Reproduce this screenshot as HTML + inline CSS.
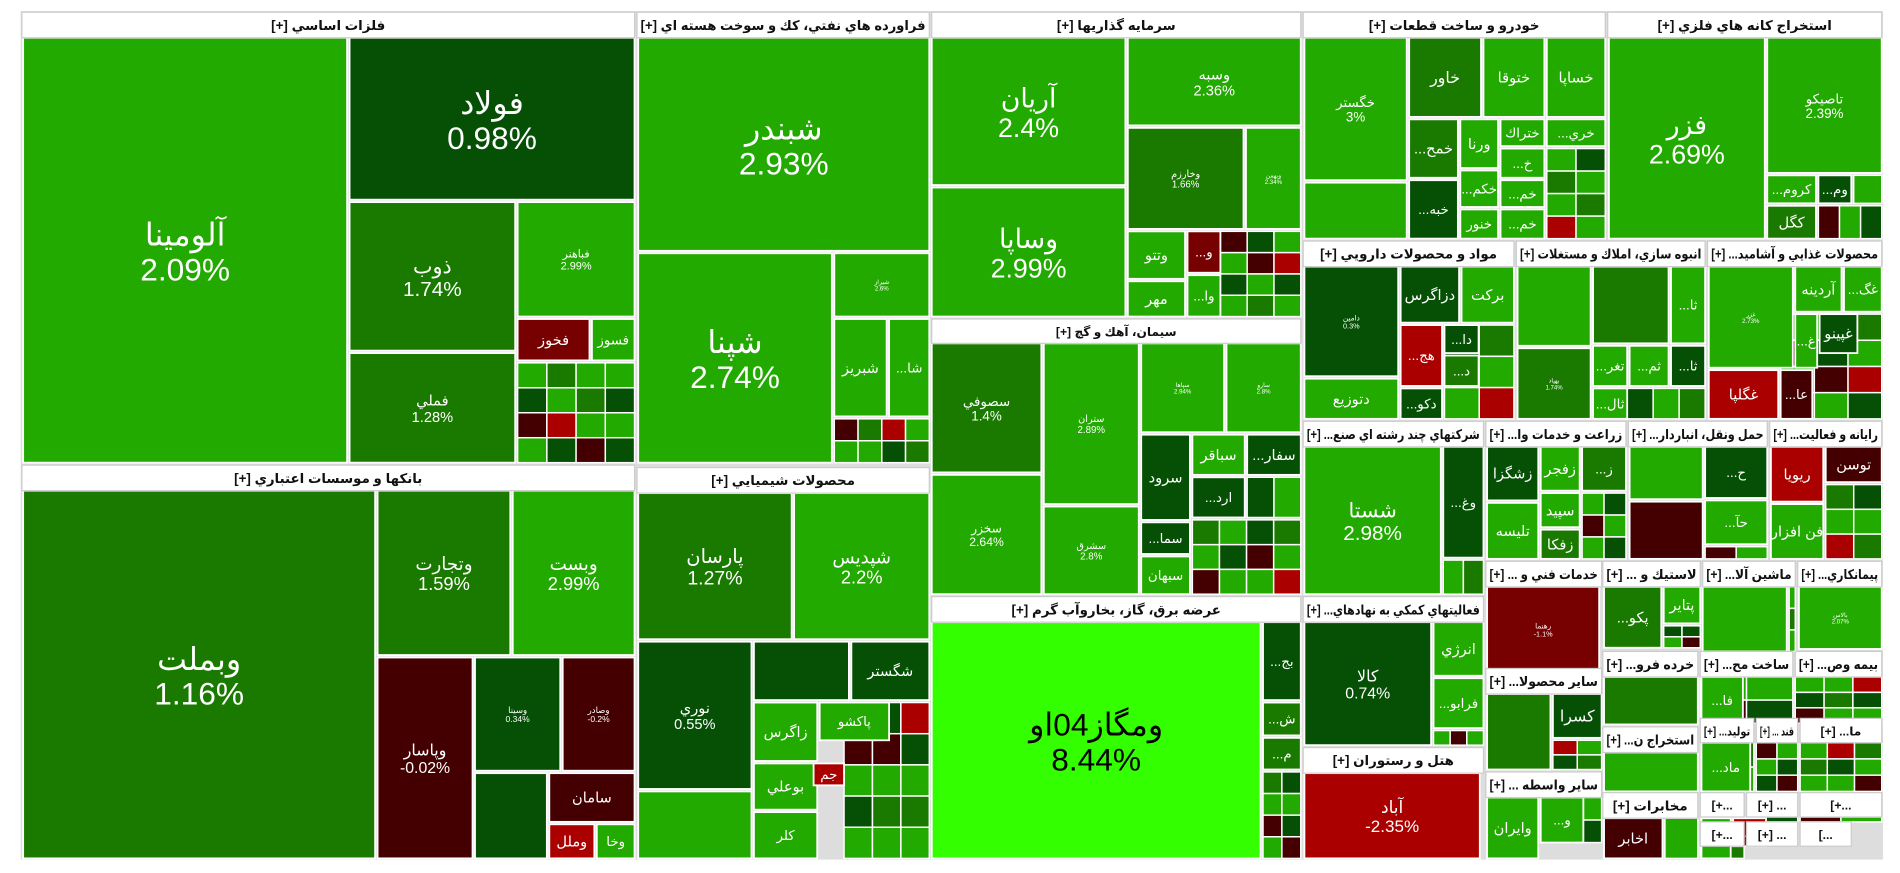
<!DOCTYPE html>
<html><head><meta charset="utf-8">
<style>
html,body{margin:0;padding:0;background:#fff;width:1900px;height:873px;overflow:hidden}
svg{display:block}
text{font-family:"Liberation Sans","DejaVu Sans",sans-serif}
</style></head>
<body>
<svg id="tm" width="1900" height="873" viewBox="0 0 1560 717" preserveAspectRatio="none" xmlns="http://www.w3.org/2000/svg">
<rect x="17" y="9" width="1529" height="697" fill="#ddd"/>
<g id="cells"></g><g id="heads"></g>
</svg>
<script>
// sector headers
const headerBoxes = [
[18,10,521,31,'فلزات اساسي [+]'],
[523,10,763,31,'فراورده هاي نفتي، كك و سوخت هسته اي [+]'],
[765,10,1068,31,'سرمايه گذاريها [+]'],
[1070,10,1318,31,'خودرو و ساخت قطعات [+]'],
[1320,10,1545,31,'استخراج كانه هاي فلزي [+]'],
[18,382,521,403,'بانكها و موسسات اعتباري [+]'],
[523,384,763,405,'محصولات شيميايي [+]'],
[765,262,1068,282,'سيمان، آهك و گچ [+]'],
[765,490,1068,511,'عرضه برق، گاز، بخاروآب گرم [+]'],
[1070,198,1243,219,'مواد و محصولات دارويي [+]'],
[1245,198,1400,219,'انبوه سازي، املاك و مستغلات [+]'],
[1402,198,1545,219,'محصولات غذايي و آشاميد... [+]'],
[1070,346,1218,367,'شركتهاي چند رشته اي صنع... [+]'],
[1220,346,1335,367,'زراعت و خدمات وا... [+]'],
[1337,346,1451,367,'حمل ونقل، انباردار... [+]'],
[1453,346,1545,367,'رايانه و فعاليت... [+]'],
[1070,490,1218,511,'فعاليتهاي كمكي به نهادهاي... [+]'],
[1070,614,1218,635,'هتل و رستوران [+]'],
[1220,461,1315,482,'خدمات فني و ... [+]'],
[1316,461,1396,482,'لاستيك و ... [+]'],
[1398,461,1474,482,'ماشين آلا... [+]'],
[1476,461,1545,482,'پيمانكاري... [+]'],
[1220,549,1315,570,'ساير محصولا... [+]'],
[1316,535,1394,556,'خرده فرو... [+]'],
[1396,535,1472,556,'ساخت مح... [+]'],
[1474,535,1545,556,'بيمه وص... [+]'],
[1316,597,1394,618,'استخراج ن... [+]'],
[1220,634,1315,655,'ساير واسطه ... [+]'],
[1316,651,1394,672,'مخابرات [+]'],
[1396,590,1440,610,'توليد... [+]'],
[1442,590,1476,610,'قند ... [+]'],
[1478,590,1545,610,'ما... [+]'],
[1396,651,1432,671,'...+]'],
[1434,651,1476,671,'... [+]'],
[1478,651,1545,671,'...+]'],
[1396,675,1432,695,'...+]'],
[1434,675,1476,695,'... [+]'],
[1478,675,1520,695,'...]']
];
// stock names
const names = ['آلومينا','فولاد','ذوب','فباهنر','فملي','فخوز','فسوز',
'وبملت','وتجارت','وبست','وپاسار','وسينا','وصادر','','سامان','وملل','وخا',
'شبندر','شپنا','شيراز','شبريز','شا...',
'پارسان','شپديس','نوري','','شگستر','زاگرس','پاكشو','بوعلي','كلر','جم','',
'آريان','وساپا','وسبه','وخارزم','وبهمن','وتتو','مهر','و...','وا...',
'سصوفي','سخزر','ستران','سشرق','سپاها','سارو','سرود','سباقر','سفار...','ارد...','سما...','سبهان',
'ومگاز04او','بج...','ش...','م...',
'خگستر','','خاور','ختوقا','خساپا','خمح...','خبه...','ورنا','ختراك','خري...','خ...','خكم...','خم...','خنور','خم...',
'فزر','تاصيكو','كروم...','وم...','كگل',
'دامين','دتوزيع','دزاگرس','بركت','هج...','دكو...','دا...','د...',
'','بهپاد','','ثا...','تغر...','ثم...','ثا...','ثال...',
'غزر','غگلپا','آردينه','غگ...','غ...','غپينو','عا...',
'شستا','وغ...',
'زشگزا','زفجر','ز...','تليسه','سپيد','زفكا',
'','ح...','','حآ...',
'ريويا','توسن','فن افزار',
'كالا','انرژي','فرابو...',
'آباد',
'رهنما','پكو...','پتاير','','بالاس',
'','كسرا','','','فا...','ماد...','وايران','و...','اخابر','ا...','ه...'];
// daily change percent for each stock (same order)
const pcts = [2.09,0.98,1.74,2.99,1.28,-0.8,2.4,
1.16,1.59,2.99,-0.02,0.34,-0.2,0.32,-0.1,-2.0,2.2,
2.93,2.74,2.6,2.5,2.3,
1.27,2.2,0.55,0.8,0.6,2.3,2.2,2.4,2.1,-2.0,2.5,
2.4,2.99,2.36,1.66,2.34,2.2,2.3,-0.8,2.1,
1.4,2.64,2.89,2.8,2.94,2.8,0.6,2.3,0.7,0.6,0.5,2.2,
8.44,0.6,1.2,1.3,
3,2.67,1.5,2.4,2.3,1.3,0.5,2.4,2.3,2.2,2.3,2.4,2.3,2.2,2.3,
2.69,2.39,2.2,0.6,1.4,
0.3,2.4,0.6,2.3,-2.0,0.7,0.6,1.2,
2.08,1.74,1.88,2.3,2.2,2.4,0.6,2.2,
2.73,-2.2,2.3,2.2,2.3,0.6,-0.3,
2.98,0.5,
0.6,2.2,1.3,2.4,2.3,1.4,
2.9,0.6,-0.01,2.2,
-2.1,-0.1,2.3,
0.74,2.2,2.3,
-2.35,
-1.1,1.3,2.2,2.2,2.07,
1.27,0.6,1.2,2.99,2.2,2.2,2.2,2.3,-0.1,2.3,-2.1];
// names whose percent label is shown at mid font sizes
const pctShown = ['فملي','خگستر','نوري','كالا','وپاسار','سصوفي','تاصيكو','شستا','آباد','وتجارت','وبست','پارسان','شپديس','وسبه'];
// marks geometry is the fixed treemap layout (screen units)
const boxes = [
[19,31,285,380,26],[287,31,521,164,26],[287,166,423,288,17],[425,166,521,260,9],[287,290,423,380,12],[425,262,484,296,12],[486,262,521,296,11],
[19,403,308,705,26],[310,403,419,538,15],[421,403,521,538,15],[310,540,388,705,13],[390,540,460,633,7],[462,540,521,633,7],[390,635,449,705,5],[451,635,521,675,12],[451,677,488,705,12],[490,677,521,705,11],
[524,31,763,206,26],[524,208,683,380,26],[685,208,763,260,5],[685,262,728,342,12],[730,262,763,342,11],
[524,405,650,525,16],[652,405,763,525,15],[524,527,617,648,12],[619,527,697,575,5],[699,527,763,575,12],[619,577,671,625,12],[673,577,730,608,11],[619,627,671,665,12],[619,667,671,705,11],[668,627,693,645,11],[524,650,617,705,5],
[765,31,924,152,22],[765,154,924,260,22],[926,31,1068,103,12],[926,105,1021,188,8],[1023,105,1068,188,5],[926,190,973,229,12],[926,231,973,260,12],[975,190,1002,224,11],[975,226,1002,260,11],
[765,282,855,388,11],[765,390,855,488,10],[857,282,935,414,8],[857,416,935,488,8],[937,282,1005,355,5],[1007,282,1068,355,5],[937,357,977,427,12],[979,357,1022,390,12],[1024,357,1068,390,12],[979,392,1022,425,11],[937,429,977,455,11],[937,457,977,488,11],
[765,511,1035,705,26],[1037,511,1068,575,11],[1037,577,1068,604,11],[1037,606,1068,632,11],
[1071,31,1155,148,11],[1071,150,1155,196,5],[1157,31,1216,96,13],[1218,31,1268,96,12],[1270,31,1318,96,12],[1157,98,1197,146,12],[1157,148,1197,196,11],[1199,98,1230,138,12],[1232,98,1268,120,11],[1270,98,1318,120,11],[1232,122,1268,146,11],[1199,140,1230,170,11],[1232,148,1268,170,11],[1199,172,1230,196,11],[1232,172,1268,196,11],
[1321,31,1449,196,22],[1451,31,1545,142,11],[1451,144,1491,167,11],[1493,144,1520,167,11],[1451,169,1491,196,12],
[1071,219,1148,309,6],[1071,311,1148,344,12],[1150,219,1198,265,12],[1200,219,1243,265,12],[1150,267,1184,317,11],[1150,319,1184,344,11],[1186,267,1214,290,11],[1186,292,1214,317,11],
[1246,219,1306,284,5],[1246,286,1306,344,5],[1308,219,1370,282,5],[1372,219,1400,282,11],[1308,284,1336,317,11],[1338,284,1370,317,11],[1372,284,1400,317,11],[1308,319,1336,344,11],
[1403,219,1472,302,5],[1403,304,1460,344,12],[1474,219,1512,256,12],[1514,219,1545,256,11],[1474,258,1492,302,11],[1494,258,1525,290,12],[1462,304,1488,344,11],
[1071,367,1183,488,17],[1185,367,1218,458,11],
[1221,367,1263,411,12],[1265,367,1297,403,12],[1299,367,1335,403,11],[1221,413,1263,459,12],[1265,405,1297,433,12],[1265,435,1297,459,12],
[1338,367,1398,410,5],[1400,367,1451,409,11],[1338,412,1398,459,5],[1400,411,1451,447,11],
[1454,367,1497,412,12],[1499,367,1545,396,12],[1454,414,1497,459,12],
[1071,511,1175,612,13],[1177,511,1218,555,12],[1177,557,1218,598,11],
[1071,635,1215,705,14],
[1221,482,1313,552,6],[1317,482,1364,532,12],[1366,482,1396,512,12],[1398,482,1467,535,5],[1477,482,1545,533,5],
[1221,570,1273,632,5],[1275,570,1315,606,13],[1317,556,1394,595,5],[1317,618,1394,650,5],[1397,556,1431,594,11],[1397,610,1437,650,11],[1221,655,1263,705,12],[1265,655,1300,692,11],[1317,672,1365,705,12],[1397,672,1421,705,11],[1423,672,1450,695,11]
];
function colorOf(p){
  if(p>=5) return '#33ff00';
  if(p>=2) return '#22aa00';
  if(p>=1) return '#1a7a00';
  if(p>0) return '#055005';
  if(p>-0.5) return '#440000';
  if(p>-1.5) return '#770000';
  return '#aa0000';
}
const NS='http://www.w3.org/2000/svg';
const cg=document.getElementById('cells');
// filler small cells (tiny stocks) - change pattern
const fillerPcts=[2.2,0.6,-0.1,2.3,1.3,2.1,-2,0.5,2.4,1.2,2.2,-0.3,2.3,0.7];
const fillerAreas=[[425,298,521,380,4,4],[685,344,763,380,4,2],[693,577,763,705,3,5],[1002,190,1068,260,3,4],[979,427,1068,488,4,3],[1024,392,1068,425,2,1],[1037,634,1068,705,2,4],[1270,122,1318,196,2,4],[1493,169,1545,196,3,1],[1522,144,1545,167,1,1],[1186,267,1243,344,2,3],[1336,319,1400,344,3,1],[1462,258,1545,344,3,4],[1185,460,1218,488,2,1],[1299,405,1335,459,2,3],[1400,449,1451,459,2,1],[1499,398,1545,459,2,3],[1177,600,1218,612,3,1],[1366,514,1396,532,2,2],[1469,482,1474,535,1,3],[1275,608,1315,632,2,2],[1396,556,1472,594,2,2],[1474,556,1545,594,3,3],[1431,610,1440,650,1,2],[1442,610,1476,650,2,3],[1478,610,1545,650,3,3],[1300,655,1315,692,1,2],[1367,672,1394,705,1,1],[1434,671,1476,675,1,1],[1478,671,1545,675,2,1],[1396,695,1432,705,1,1]];
let fi=0;
fillerAreas.forEach(a=>{
  const [x1,y1,x2,y2,nx,ny]=a;const w=(x2-x1)/nx,h=(y2-y1)/ny;
  for(let i=0;i<nx;i++)for(let j=0;j<ny;j++){
    const r=document.createElementNS(NS,'rect');
    r.setAttribute('x',x1+i*w);r.setAttribute('y',y1+j*h);r.setAttribute('width',w);r.setAttribute('height',h);
    r.setAttribute('fill',colorOf(fillerPcts[fi++%fillerPcts.length]));r.setAttribute('stroke','#fff');r.setAttribute('stroke-width','1.2');
    
    
    cg.appendChild(r);
  }
});
boxes.forEach((b,i)=>{
  const [x1,y1,x2,y2,fs]=b;const p=pcts[i];const nm=names[i];
  const g=document.createElementNS(NS,'g');
  
  
  const r=document.createElementNS(NS,'rect');
  r.setAttribute('x',x1);r.setAttribute('y',y1);r.setAttribute('width',x2-x1);r.setAttribute('height',y2-y1);
  r.setAttribute('fill',colorOf(p));r.setAttribute('stroke','#fff');r.setAttribute('stroke-width','1.5');
  g.appendChild(r);
  const tc=p>=5?'#000':'#fff';
  const cx=(x1+x2)/2,cy=(y1+y2)/2;
  const showPct=fs<=10||fs>=17||pctShown.indexOf(nm)>=0;
  if(nm){
    const t=document.createElementNS(NS,'text');
    t.setAttribute('x',cx);t.setAttribute('y',showPct?cy-fs*0.15:cy+fs*0.35);
    t.setAttribute('text-anchor','middle');t.setAttribute('font-size',fs);t.setAttribute('fill',tc);t.setAttribute('direction','rtl');
    t.textContent=nm;
    
    
    g.appendChild(t);
    if(showPct){
      const t2=document.createElementNS(NS,'text');
      t2.setAttribute('x',cx);t2.setAttribute('y',cy+fs*0.95);
      t2.setAttribute('text-anchor','middle');t2.setAttribute('font-size',fs);t2.setAttribute('fill',tc);
      t2.textContent=p+'%';
      
      
      g.appendChild(t2);
    }
  }
  cg.appendChild(g);
});
const hg=document.getElementById('heads');
headerBoxes.forEach(h=>{
  const [x1,y1,x2,y2,tx]=h;
  const g=document.createElementNS(NS,'g');
  
  
  const r=document.createElementNS(NS,'rect');
  r.setAttribute('x',x1);r.setAttribute('y',y1);r.setAttribute('width',x2-x1);r.setAttribute('height',y2-y1);
  r.setAttribute('fill','#fff');r.setAttribute('stroke','#ccc');r.setAttribute('stroke-width','1');
  g.appendChild(r);
  const fs=(y2-y1)<21?10:11;
  const t=document.createElementNS(NS,'text');
  t.setAttribute('x',(x1+x2)/2);t.setAttribute('y',(y1+y2)/2+4);t.setAttribute('text-anchor','middle');
  t.setAttribute('font-size',fs);t.setAttribute('font-weight','bold');t.setAttribute('fill','#111');t.setAttribute('direction','rtl');
  t.textContent=tx;
  
  
  g.appendChild(t);
  hg.appendChild(g);
  const maxW=(x2-x1)-6;
  try{ const bw=t.getComputedTextLength(); if(bw>maxW){t.setAttribute('textLength',maxW);t.setAttribute('lengthAdjust','spacingAndGlyphs');} }catch(e){}
});
</script>
</body></html>
